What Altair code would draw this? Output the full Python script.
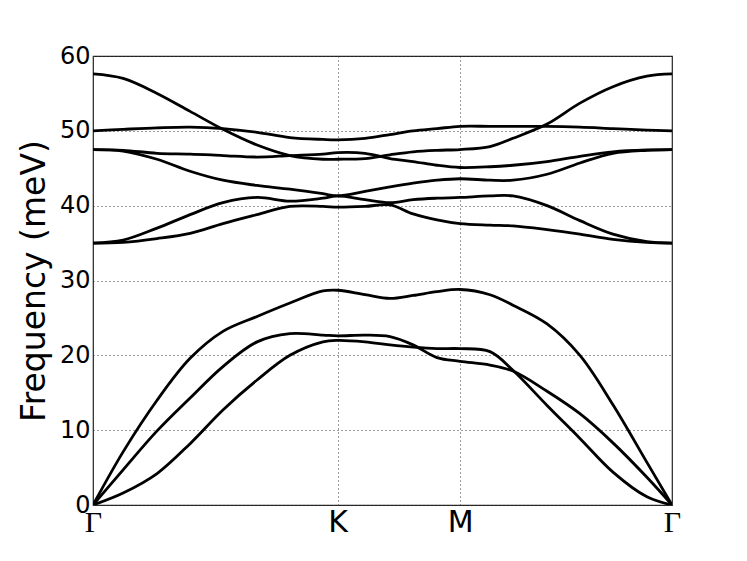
import altair as alt
import pandas as pd

# high-symmetry points along the path (path length units) and their names
k_ticks = [0.0, 1.3333, 2.0, 3.1547]
k_labels = ["Γ", "K", "M", "Γ"]

# sampled path positions
k = [0.0, 0.164, 0.349, 0.529, 0.708, 0.894, 1.073, 1.253, 1.3333, 1.482, 1.618,
     1.744, 1.874, 2.0, 2.163, 2.288, 2.474, 2.653, 2.833, 3.018, 3.1547]

# phonon branches (meV)
acoustic_1 = [0, 7.1, 14.0, 19.6, 23.2, 25.2, 27.0, 28.6, 28.7, 28.1, 27.6,
              28.0, 28.5, 28.8, 28.1, 26.7, 24.2, 20.0, 13.4, 5.7, 0]
acoustic_2 = [0, 4.7, 9.9, 14.3, 18.5, 21.8, 22.9, 22.7, 22.6, 22.7, 22.5,
              21.4, 19.7, 19.2, 18.7, 17.9, 15.2, 12.2, 8.3, 3.7, 0]
acoustic_3 = [0, 1.6, 4.2, 8.2, 12.7, 16.7, 20.0, 21.8, 22.0, 21.8, 21.4,
              21.1, 20.9, 20.9, 20.5, 18.0, 13.3, 8.9, 4.4, 1.1, 0]
optical_1 = [57.6, 57.0, 55.0, 52.6, 50.2, 48.1, 46.7, 46.2, 46.2, 46.3, 46.8,
             47.2, 47.4, 47.5, 47.9, 49.0, 50.9, 53.7, 55.9, 57.3, 57.6]
optical_2 = [50.0, 50.2, 50.4, 50.5, 50.3, 49.8, 49.1, 48.85, 48.8, 49.0, 49.5,
             50.0, 50.3, 50.6, 50.6, 50.6, 50.6, 50.5, 50.3, 50.1, 50.0]
optical_3 = [47.5, 47.4, 47.0, 46.9, 46.7, 46.5, 46.7, 46.9, 47.1, 47.0, 46.3,
             45.9, 45.4, 45.1, 45.2, 45.4, 45.9, 46.6, 47.2, 47.45, 47.5]
optical_4 = [47.5, 47.3, 46.2, 44.6, 43.4, 42.7, 42.2, 41.6, 41.3, 41.9, 42.5,
             43.0, 43.4, 43.6, 43.4, 43.4, 44.2, 45.7, 47.0, 47.4, 47.5]
optical_5 = [35.0, 35.4, 37.0, 38.8, 40.4, 41.1, 40.6, 41.0, 41.3, 40.8, 40.4,
             40.8, 41.0, 41.1, 41.3, 41.3, 40.0, 38.0, 36.2, 35.2, 35.0]
optical_6 = [35.0, 35.1, 35.6, 36.3, 37.6, 38.8, 39.9, 39.9, 39.8, 39.9, 40.1,
             38.9, 38.1, 37.6, 37.4, 37.3, 36.8, 36.2, 35.5, 35.1, 35.0]

y_ticks = [0, 10, 20, 30, 40, 50, 60]

bands = {
    "a1": acoustic_1, "a2": acoustic_2, "a3": acoustic_3,
    "o1": optical_1, "o2": optical_2, "o3": optical_3,
    "o4": optical_4, "o5": optical_5, "o6": optical_6,
}
rows = []
for name, vals in bands.items():
    for kk, v in zip(k, vals):
        rows.append({"k": kk, "freq": v, "band": name})
df = pd.DataFrame(rows)

label_expr = " : ".join(
    f"abs(datum.value - {t}) < 0.01 ? '{l}'" for t, l in zip(k_ticks, k_labels)
) + " : ''"

x_axis = alt.Axis(
    values=k_ticks,
    labelExpr=label_expr,
    title=None,
    grid=True,
    gridColor="#3a3a3a",
    gridDash=[1, 3],
    gridWidth=1,
    ticks=False,
    domain=False,
    labelFlush=False,
    labelFontSize=30,
    labelFont={"condition": {"test": "datum.value < 0.01 || datum.value > 3",
                             "value": "Liberation Serif"},
               "value": "DejaVu Sans"},
    labelColor="black",
    labelPadding=2,
)
y_axis = alt.Axis(
    values=y_ticks,
    title="Frequency (meV)",
    grid=True,
    gridColor="#3a3a3a",
    gridDash=[1, 3],
    gridWidth=1,
    ticks=False,
    domain=False,
    labelFlush=False,
    labelFontSize=24,
    labelFont="DejaVu Sans",
    labelColor="black",
    labelPadding=3,
    titleFont="DejaVu Sans",
    titleFontSize=33,
    titleFontWeight="normal",
    titleColor="black",
    titlePadding=8,
)

chart = (
    alt.Chart(df)
    .mark_line(color="black", strokeWidth=2.8, interpolate="catmull-rom", clip=True)
    .encode(
        x=alt.X("k:Q", scale=alt.Scale(domain=[0, 3.1547], nice=False, zero=False), axis=x_axis),
        y=alt.Y("freq:Q", scale=alt.Scale(domain=[0, 60], nice=False), axis=y_axis),
        detail="band:N",
    )
    .properties(
        width=579,
        height=449,
        autosize=alt.AutoSizeParams(type="none"),
        padding={"left": 85, "top": 48, "right": 67, "bottom": 48},
        background="white",
    )
    .configure_view(stroke="#222222", strokeWidth=1.2)
)

chart.save("out.html", embed_options={"renderer": "svg", "actions": False})
